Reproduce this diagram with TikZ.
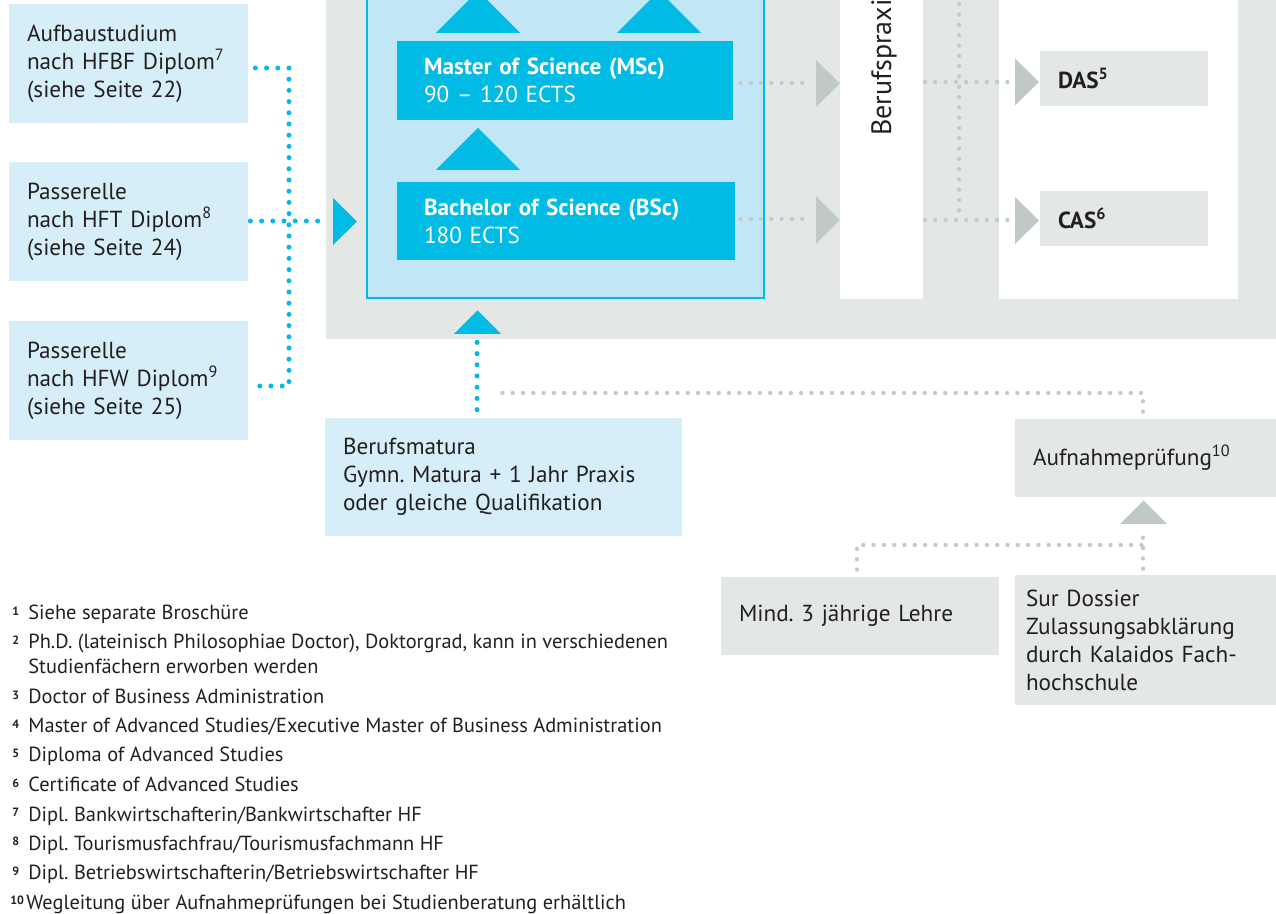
\documentclass[tikz,border=0pt]{standalone}
\usepackage{fontspec}
\setmainfont{PT Sans}
\newfontfamily\fnfont{PT Sans}
\usetikzlibrary{positioning}

\definecolor{kcyan}{HTML}{00BBE4}
\definecolor{kframe}{HTML}{C1E6F5}
\definecolor{kpale}{HTML}{D5EEF7}
\definecolor{kgray}{HTML}{E3E7E6}
\definecolor{ktri}{HTML}{C1C9C4}
\definecolor{kdot}{HTML}{C5CCC8}
\definecolor{ktext}{HTML}{231F20}

\newcommand\fnnum[1]{\makebox[8pt][l]{\raisebox{2.2pt}{\fontsize{6}{6}\selectfont\bfseries #1}}}
\frenchspacing

\tikzset{box/.style={ % Common look of all text boxes
            rectangle,
            inner ysep=0pt,
            inner xsep=9pt,
            align=left,
            text=ktext,
            font=\fontsize{11.6}{14}\selectfont},
        palebox/.style={box, fill=kpale},
        graybox/.style={box, fill=kgray},
        studbox/.style={box, fill=kcyan, text=white, inner xsep=13.5pt},
        fnote/.style={ % Footnote lines
            anchor=base west,
            inner sep=0pt,
            text=ktext,
            font=\fnfont\fontsize{10.2}{12.5}\selectfont},
        cyandots/.style={draw=kcyan, line width=2.5pt, line cap=round, dash pattern=on 0pt off 5.6pt},
        graydots/.style={draw=kdot, line width=2.2pt, line cap=round, dash pattern=on 0pt off 5.15pt},
        bigup/.pic={\path[pic actions] (-42,0) -- (0,-42) -- (42,0) -- cycle;},
        smallup/.pic={\path[pic actions] (-23.5,0) -- (0,-23.5) -- (23.5,0) -- cycle;},
        smallright/.pic={\path[pic actions] (0,-23.5) -- (24,0) -- (0,23.5) -- cycle;}
        }

\begin{document}
\begin{tikzpicture}[x=0.5pt, y=-0.5pt] % one unit is one pixel, y runs down
    \useasboundingbox (0,0) rectangle (1276,914);
    \clip (0,0) rectangle (1276,914);

    % background areas
    \fill[kgray] (326,-20) rectangle (1276,339);
    \fill[white] (840,-20) rectangle (923,299);
    \fill[white] (999,-20) rectangle (1238,299);
    \filldraw[fill=kframe, draw=kcyan, line width=1.1pt] (367,-20) rectangle (764,298);

    \node[rotate=90, anchor=base west, inner sep=0pt, text=ktext, font=\fontsize{14}{16}\selectfont] (praxis) at (891,136) {Berufspraxis};

    % boxes
    \node[palebox, text width=101.5pt, minimum height=59.5pt] (aufbau) at (128.5,63.5) {Aufbaustudium\\nach HFBF Diplom\textsuperscript{7}\\(siehe Seite 22)};
    \node[palebox, text width=101.5pt, minimum height=59.5pt] (hft) at (128.5,221.5) {Passerelle\\nach HFT Diplom\textsuperscript{8}\\(siehe Seite 24)};
    \node[palebox, text width=101.5pt, minimum height=59.5pt] (hfw) at (128.5,380.5) {Passerelle\\nach HFW Diplom\textsuperscript{9}\\(siehe Seite 25)};

    \node[studbox, text width=141pt, minimum height=39.5pt] (msc) at (565,80.5) {\textbf{Master of Science (MSc)}\\90 – 120 ECTS};
    \node[studbox, text width=142pt, minimum height=39pt] (bsc) at (566,221) {\textbf{Bachelor of Science (BSc)}\\180 ECTS};

    \node[graybox, text width=66pt, minimum height=27.5pt] (das) at (1124,78.5) {\textbf{DAS\textsuperscript{5}}};
    \node[graybox, text width=66pt, minimum height=27.5pt] (cas) at (1124,218.5) {\textbf{CAS\textsuperscript{6}}};

    \node[palebox, text width=160.5pt, minimum height=59pt] (matura) at (503.5,477) {Berufsmatura\\Gymn. Matura + 1 Jahr Praxis\\oder gleiche Qualifikation};
    \node[graybox, text width=112.5pt, minimum height=39pt] (aufnahme) at (1145.5,458) {Aufnahmeprüfung\textsuperscript{10}};
    \node[graybox, text width=121pt, minimum height=39pt] (lehre) at (860,616) {Mind. 3 jährige Lehre};
    \node[graybox, text width=119.5pt, inner xsep=5.5pt, minimum height=65pt] (dossier) at (1145.5,640) {Sur Dossier\\Zulassungsabklärung\\durch Kalaidos Fach-\\hochschule};

    % arrow heads
    \pic[fill=kcyan] at (478,33) {bigup};
    \pic[fill=kcyan] at (659,33) {bigup};
    \pic[fill=kcyan] at (478,170) {bigup};
    \pic[fill=kcyan] at (477.5,334) {smallup};
    \pic[fill=kcyan] at (333,221.5) {smallright};
    \pic[fill=ktri] at (816,83.5) {smallright};
    \pic[fill=ktri] at (816,220) {smallright};
    \pic[fill=ktri] at (1015,82) {smallright};
    \pic[fill=ktri] at (1015,220.5) {smallright};
    \pic[fill=ktri] at (1143.5,524) {smallup};

    % connectors
    \coordinate (cknot) at (289,221);
    \coordinate (cin) at (328,221);
    \coordinate (cup) at (477,342);
    \draw[cyandots] ([shift={(7,4.5)}]aufbau.east) -| (cknot) |- ([shift={(7,5.5)}]hfw.east);
    \draw[cyandots] ([shift={(2,-0.5)}]hft.east) -- (cin);
    \draw[cyandots] ([shift={(-26.5,-8)}]matura.north) -- (cup);

    \coordinate (mscout) at (806,83);
    \coordinate (bscout) at (806,219);
    \coordinate (dasin) at (1008,82);
    \coordinate (casin) at (1008,220);
    \coordinate (vtop) at (959,-6);
    \coordinate (vknot) at (959,220);
    \draw[graydots] ([shift={(7,2.5)}]msc.east) -- (mscout);
    \draw[graydots] ([shift={(5,-2)}]bsc.east) -- (bscout);
    \draw[graydots] (925,82) -- (dasin);
    \draw[graydots] (925,220) -- (casin);
    \draw[graydots] (vtop) -- (vknot);

    \coordinate (gcorner) at (1143,393);
    \coordinate (gend) at (493,393);
    \coordinate (lcorner) at (857,545);
    \coordinate (dcorner) at (1143,545);
    \coordinate (gtri) at (1143,530);
    \draw[graydots] ([yshift=3.5pt]aufnahme.north -| gcorner) -- (gcorner) -- (gend);
    \draw[graydots] ([yshift=3.5pt]lehre.north -| lcorner) -- (lcorner) -- (dcorner);
    \draw[graydots] ([yshift=3pt]dossier.north -| dcorner) -- (gtri);

    % footnotes
    \node[fnote] (fn1) at (12,620) {\fnnum{1}Siehe separate Broschüre};
    \node[fnote] (fn2) at (12,649) {\fnnum{2}\parbox[t]{340pt}{Ph.D. (lateinisch Philosophiae Doctor), Doktorgrad, kann in verschiedenen\\Studienfächern erworben werden}};
    \node[fnote] (fn3) at (12,703.5) {\fnnum{3}Doctor of Business Administration};
    \node[fnote] (fn4) at (12,733) {\fnnum{4}Master of Advanced Studies/Executive Master of Business Administration};
    \node[fnote] (fn5) at (12,762) {\fnnum{5}Diploma of Advanced Studies};
    \node[fnote] (fn6) at (12,791.5) {\fnnum{6}Certificate of Advanced Studies};
    \node[fnote] (fn7) at (12,821) {\fnnum{7}Dipl. Bankwirtschafterin/Bankwirtschafter HF};
    \node[fnote] (fn8) at (12,850) {\fnnum{8}Dipl. Tourismusfachfrau/Tourismusfachmann HF};
    \node[fnote] (fn9) at (12,879.5) {\fnnum{9}Dipl. Betriebswirtschafterin/Betriebswirtschafter HF};
    \node[fnote] (fn10) at (10,909) {\fnnum{10}Wegleitung über Aufnahmeprüfungen bei Studienberatung erhältlich};
\end{tikzpicture}
\end{document}
